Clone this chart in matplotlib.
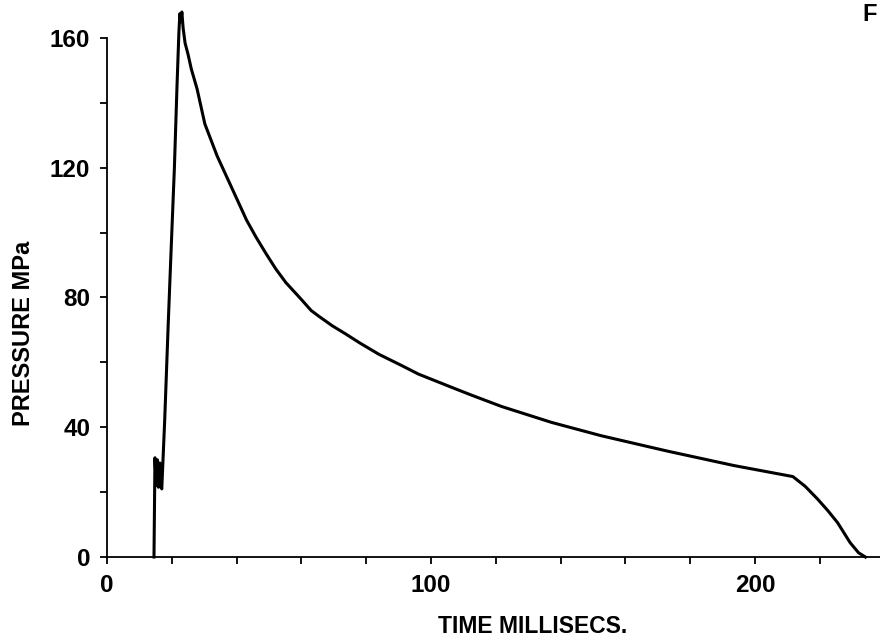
import matplotlib
matplotlib.use("Agg")
import matplotlib.pyplot as plt

plt.rcParams["font.family"] = ["Liberation Sans", "DejaVu Sans"]
plt.rcParams["font.weight"] = "bold"

# Pressure trace: time (ms) and pressure (MPa)
time_ms = [14.5, 14.8, 15.2, 15.5, 15.9, 16.3, 16.6, 16.9, 17.8, 18.9, 19.8,
           20.8, 21.6, 22.2, 22.5, 22.8, 23.1, 23.5, 24.1, 25.0, 26.0, 27.8,
           30.2, 34.0, 38.6, 43.1, 46.0, 49.1, 52.1, 55.2, 59.8, 63.0, 65.4,
           69.5, 73.6, 78.0, 83.9, 91.0, 96.1, 106.4, 112.5, 121.8, 137.2,
           152.5, 168.0, 173.2, 193.5, 211.7, 215.5, 219.3, 222.5, 225.5,
           229.4, 232.0, 234.1]
pressure_mpa = [0.0, 30.6, 22.0, 30.0, 21.5, 29.0, 22.5, 21.0, 42.0, 72.0, 95.0,
                120.0, 145.0, 162.0, 167.5, 165.0, 168.0, 163.0, 158.4, 155.0,
                150.5, 144.3, 133.5, 123.6, 113.6, 103.8, 98.6, 93.5, 88.8,
                84.6, 79.6, 76.0, 74.2, 71.3, 68.8, 66.0, 62.5, 59.0, 56.4,
                52.3, 49.9, 46.4, 41.5, 37.4, 33.8, 32.6, 28.2, 24.8, 21.8,
                17.9, 14.3, 10.6, 4.4, 1.3, 0.0]

x_ticks = list(range(0, 240, 20))
x_labels = ["0", "100", "200"]
y_ticks = list(range(0, 161, 20))
y_labels = ["0", "40", "80", "120", "160"]

fig = plt.figure(figsize=(8.8, 6.43), dpi=100)
ax = fig.add_axes([0.1216, 0.1337, 0.8784, 0.8073])

ax.plot(time_ms, pressure_mpa, color="black", lw=2.2,
        solid_joinstyle="round", clip_on=False)

ax.set_xlim(0, 238.6)
ax.set_ylim(0, 160)

ax.set_xticks(x_ticks)
ax.set_xticklabels([str(t) if str(t) in x_labels else "" for t in x_ticks])
ax.set_yticks(y_ticks)
ax.set_yticklabels([str(t) if str(t) in y_labels else "" for t in y_ticks])

for s in ("top", "right"):
    ax.spines[s].set_visible(False)
for s in ("left", "bottom"):
    ax.spines[s].set_linewidth(1.3)

ax.tick_params(axis="both", direction="out", length=5, width=1.3,
               labelsize=17.5, pad=7)
for lab in ax.get_xticklabels() + ax.get_yticklabels():
    lab.set_fontweight("bold")

fig.text(0.605, 0.025, "TIME MILLISECS.", ha="center", va="center",
         fontsize=16.5, fontweight="bold")
fig.text(0.027, 0.482, "PRESSURE MPa", ha="center", va="center",
         rotation=90, fontsize=17, fontweight="bold")
fig.text(0.980, 0.995, "F", ha="left", va="top", fontsize=17,
         fontweight="bold")

fig.savefig("out.png", dpi=100, facecolor="white")
